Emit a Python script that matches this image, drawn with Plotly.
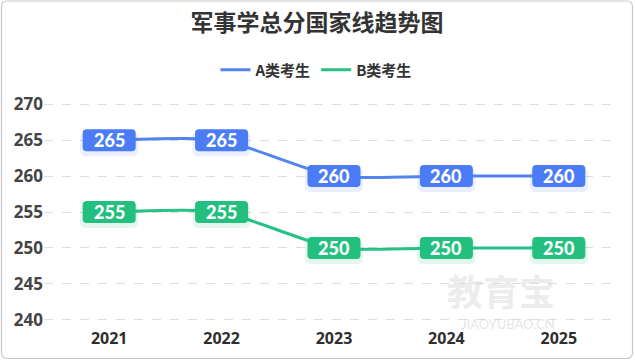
import plotly.graph_objects as go

years = ["2021", "2022", "2023", "2024", "2025"]
a_scores = [265, 265, 260, 260, 260]
b_scores = [255, 255, 250, 250, 250]
y_ticks = [240, 245, 250, 255, 260, 265, 270]

title_text = "军事学总分国家线趋势图"
series_names = ["A类考生", "B类考生"]

line_colors = ["#5283EE", "#27C086"]
box_colors = ["#4B7CF5", "#22BF7E"]

W, H = 635, 362
ML, MR, MT, MB = 44, 20, 97, 35

xs = list(range(len(years)))

fig = go.Figure()
for name, vals, lc in zip(series_names, [a_scores, b_scores], line_colors):
    fig.add_trace(go.Scatter(
        x=xs, y=vals, name=name, mode="lines",
        line=dict(color=lc, width=3, shape="spline", smoothing=0.6),
        cliponaxis=False,
    ))

def rrect(w, h, r, dy=0.0):
    x0, x1 = -w / 2, w / 2
    y0, y1 = -h / 2 + dy, h / 2 + dy
    return (f"M {x0+r},{y0} L {x1-r},{y0} Q {x1},{y0} {x1},{y0+r} "
            f"L {x1},{y1-r} Q {x1},{y1} {x1-r},{y1} L {x0+r},{y1} "
            f"Q {x0},{y1} {x0},{y1-r} L {x0},{y0+r} Q {x0},{y0} {x0+r},{y0} Z")

shapes = []
annotations = []
for vals, bc in zip([a_scores, b_scores], box_colors):
    for xi, v in zip(xs, vals):
        # soft glow/shadow
        shapes.append(dict(type="path", xref="x", yref="y", xsizemode="pixel",
                           ysizemode="pixel", xanchor=xi, yanchor=v,
                           path=rrect(58, 24, 6, dy=-4), fillcolor=bc,
                           opacity=0.12, line=dict(width=0), layer="above"))
        shapes.append(dict(type="path", xref="x", yref="y", xsizemode="pixel",
                           ysizemode="pixel", xanchor=xi, yanchor=v,
                           path=rrect(53, 22, 4), fillcolor=bc,
                           line=dict(width=0), layer="above"))
        annotations.append(dict(x=xi, y=v, xref="x", yref="y", text=str(v),
                                showarrow=False,
                                font=dict(family="Lato", size=18, color="white",
                                          weight=900)))

# outer border
plot_w = W - ML - MR
plot_h = H - MT - MB
base_y = H - MB
shapes.append(dict(type="path", xref="paper", yref="paper", xsizemode="pixel",
                   ysizemode="pixel", xanchor=0, yanchor=0,
                   path=(lambda l, r, b, t, rad: (
                       f"M {l+rad},{b} L {r-rad},{b} Q {r},{b} {r},{b+rad} "
                       f"L {r},{t-rad} Q {r},{t} {r-rad},{t} L {l+rad},{t} "
                       f"Q {l},{t} {l},{t-rad} L {l},{b+rad} Q {l},{b} {l+rad},{b} Z"))
                   (1.5 - ML, 632.5 - ML, -(358.5 - base_y), base_y - 1.0, 6),
                   line=dict(color="#C8C8C8", width=1.2), fillcolor="rgba(0,0,0,0)",
                   layer="below"))

# watermark
annotations.append(dict(x=(557 - ML) / plot_w, y=(base_y - 318) / plot_h,
                        xref="paper", yref="paper", text="教育宝", showarrow=False,
                        font=dict(family="Noto Sans CJK SC", size=36,
                                  color="rgba(205,205,205,0.4)", weight="bold")))
annotations.append(dict(x=(557 - ML) / plot_w, y=(base_y - 334) / plot_h,
                        xref="paper", yref="paper", text="JIAOYUBAO.CN",
                        showarrow=False,
                        font=dict(family="Lato", size=13,
                                  color="rgba(195,195,195,0.45)")))

fig.update_layout(
    width=W, height=H,
    margin=dict(l=ML, r=MR, t=MT, b=MB, autoexpand=False),
    paper_bgcolor="white", plot_bgcolor="white",
    title=dict(text=title_text, x=317 / W, xanchor="center",
               y=1 - 23 / H, yanchor="middle",
               font=dict(family="Noto Sans CJK SC", size=23, color="#333333",
                         weight="bold")),
    legend=dict(orientation="h", x=(316 - ML) / plot_w, xanchor="center",
                y=(base_y - 70) / plot_h, yanchor="middle",
                font=dict(family="Noto Sans CJK SC", size=15, color="#333333",
                          weight="bold"),
                itemwidth=30, bgcolor="rgba(0,0,0,0)"),
    xaxis=dict(tickmode="array", tickvals=xs, ticktext=years,
               range=[-0.58, 4.5], showgrid=False, zeroline=False,
               showline=False, ticks="", automargin=False,
               tickfont=dict(family="Open Sans", size=16, color="#2E2E2E",
                             weight="bold")),
    yaxis=dict(tickmode="array", tickvals=y_ticks,
               ticktext=[str(t) for t in y_ticks],
               range=[239, 271], showgrid=True, gridcolor="#DDDDDD",
               griddash="dash", gridwidth=1, zeroline=False, showline=False,
               ticks="", ticklabelstandoff=0, automargin=False,
               tickfont=dict(family="Open Sans", size=17, color="#444444",
                             weight="bold")),
    shapes=shapes,
    annotations=annotations,
    showlegend=True,
)

fig.write_html("out.html", config={"displayModeBar": False},
               post_script="document.body.style.margin='0';document.body.style.overflow='hidden';")
